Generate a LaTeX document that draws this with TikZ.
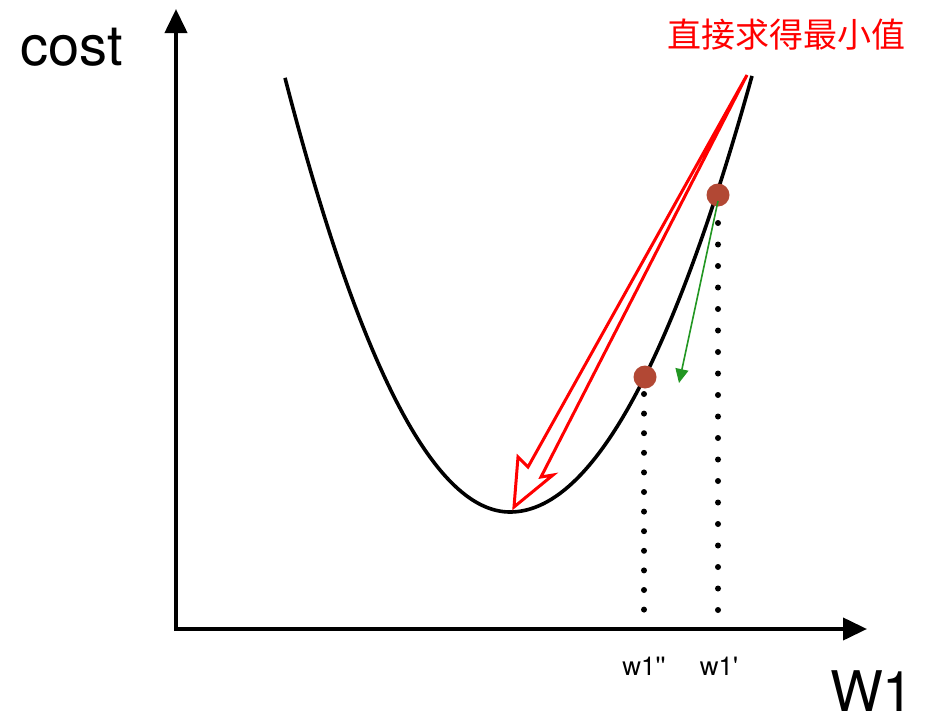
\documentclass[tikz,border=0pt]{standalone}
\usepackage{fontspec}
\setmainfont{TeX Gyre Heros}
\newfontfamily\cjk{Noto Sans CJK SC}
\usetikzlibrary{arrows.meta}
\definecolor{ptbrown}{RGB}{178,72,52}
\definecolor{arrgreen}{RGB}{34,150,34}
\tikzset{
  axisline/.style={line width=4pt,-{Triangle[length=24pt,width=22pt]}},
  curveline/.style={line width=3.6pt},
  ptdot/.style={circle,fill=ptbrown,minimum size=23pt,inner sep=0pt},
  smalldot/.style={circle,fill=black,minimum size=6pt,inner sep=0pt},
  biglabel/.style={font=\fontsize{56}{60}\selectfont,anchor=base},
  ticklabel/.style={font=\fontsize{26}{28}\selectfont,anchor=base},
}
\begin{document}
\begin{tikzpicture}[x=1pt,y=-1pt]
\useasboundingbox (0,0) rectangle (946,728);
% axes
\coordinate (origin) at (176,629);
\coordinate (ytip) at (176,9);
\coordinate (xtip) at (867,629);
\draw[axisline] (176,631) -- (ytip);
\draw[axisline] (174,629) -- (xtip);
% curve
\draw[curveline] plot[domain=285:510,samples=80,smooth] (\x,{512-0.00857*(\x-510)*(\x-510)})
  -- plot[domain=510:752,samples=80,smooth] (\x,{512-0.00744*(\x-510)*(\x-510)});
% dotted lines
\foreach \i in {0,...,18} \node[smalldot] at (718,{223+21.5*\i}) {};
\foreach \i in {0,...,11} \node[smalldot] at (644,{394+19.6*\i}) {};
% points
\node[ptdot] (p1) at (718,195) {};
\node[ptdot] (p2) at (645,377) {};
% green arrow
\coordinate (gend) at (679,383);
\draw[arrgreen,line width=1.6pt,-{Triangle[length=14pt,width=13pt]}] (p1.center) ++(0,6) -- (gend);
% red hollow arrow
\coordinate (rtop) at (747,75);
\coordinate (rtip) at (514,507);
\draw[red,line width=3pt,line join=miter] (rtop) -- (528,467) -- (518,457) -- (rtip) -- (553,475) -- (541,477) -- cycle;
% labels
\node[biglabel] (cost) at (72,65) {cost};
\node[biglabel] (W1) at (872,711) {W1};
\node[ticklabel] (w1pp) at (644,675) {w1\textquotesingle\textquotesingle};
\node[ticklabel] (w1p) at (719,675) {w1\textquotesingle};
\node[font=\cjk\fontsize{34}{36}\selectfont,text=red,anchor=base] (title) at (786,47) {直接求得最小值};
\end{tikzpicture}
\end{document}
